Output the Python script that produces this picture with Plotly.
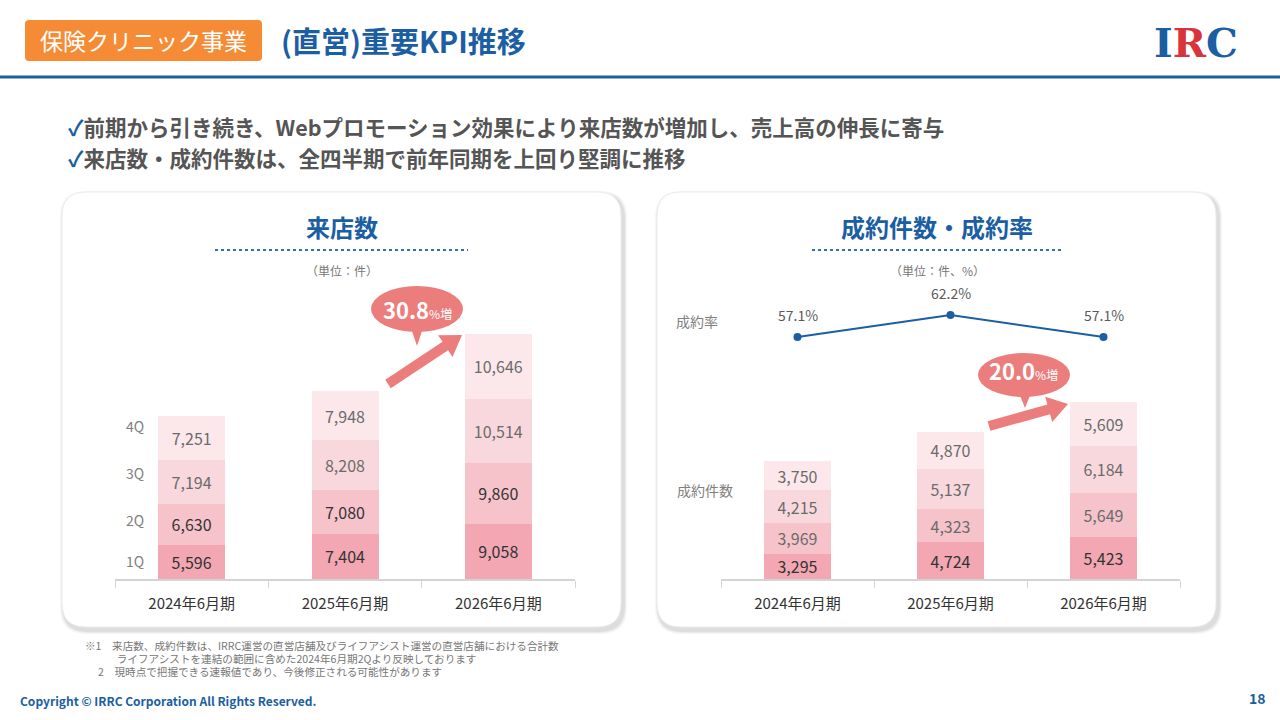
import math
import plotly.graph_objects as go

W, H = 1280, 720

# ---- data ----
years = ["2024年6月期", "2025年6月期", "2026年6月期"]
quarters = ["1Q", "2Q", "3Q", "4Q"]
visits = {
    "1Q": [5596, 7404, 9058],
    "2Q": [6630, 7080, 9860],
    "3Q": [7194, 8208, 10514],
    "4Q": [7251, 7948, 10646],
}
contracts = {
    "1Q": [3295, 4724, 5423],
    "2Q": [3969, 4323, 5649],
    "3Q": [4215, 5137, 6184],
    "4Q": [3750, 4870, 5609],
}
close_rate = [57.1, 62.2, 57.1]
visits_growth = "30.8"
contracts_growth = "20.0"

q_colors = {"1Q": "#F2A7B3", "2Q": "#F6C3CB", "3Q": "#F9D8DD", "4Q": "#FCE8EB"}
visit_txt = {"1Q": "#333333", "2Q": "#333333", "3Q": "#6b6b6b", "4Q": "#6b6b6b"}
contract_txt = {"1Q": "#333333", "2Q": "#6b6b6b", "3Q": "#6b6b6b", "4Q": "#6b6b6b"}

FONT = "Noto Sans CJK JP"
BLUE = "#1B5EA2"
PINK = "#EC7D7D"


def px(x):
    return x / W


def py(y):
    return 1 - y / H


def P(x, y):
    return f"{px(x):.5f},{py(y):.5f}"


def rounded_rect(x0, y0, x1, y1, r):
    return (f"M{P(x0 + r, y0)} L{P(x1 - r, y0)} Q{P(x1, y0)} {P(x1, y0 + r)} "
            f"L{P(x1, y1 - r)} Q{P(x1, y1)} {P(x1 - r, y1)} L{P(x0 + r, y1)} "
            f"Q{P(x0, y1)} {P(x0, y1 - r)} L{P(x0, y0 + r)} Q{P(x0, y0)} {P(x0 + r, y0)} Z")


fig = go.Figure()

# ---- left: visits ----
for q in quarters:
    fig.add_trace(go.Bar(
        x=years, y=visits[q], name=q, marker=dict(color=q_colors[q], line_width=0),
        width=0.437, text=visits[q], texttemplate="%{y:,}", textposition="inside",
        insidetextanchor="middle", textangle=0, constraintext="none",
        textfont=dict(size=16, color=visit_txt[q], family=FONT),
        xaxis="x", yaxis="y", showlegend=False, hoverinfo="skip"))

# ---- right: contracts ----
for q in quarters:
    fig.add_trace(go.Bar(
        x=years, y=contracts[q], name=q, marker=dict(color=q_colors[q], line_width=0),
        width=0.437, text=contracts[q], texttemplate="%{y:,}", textposition="inside",
        insidetextanchor="middle", textangle=0, constraintext="none",
        textfont=dict(size=16, color=contract_txt[q], family=FONT),
        xaxis="x2", yaxis="y2", showlegend=False, hoverinfo="skip"))

fig.add_trace(go.Scatter(
    x=years, y=close_rate, mode="lines+markers",
    line=dict(color=BLUE, width=2), marker=dict(color=BLUE, size=8),
    xaxis="x2", yaxis="y3", showlegend=False, hoverinfo="skip"))

xax = dict(type="category", showgrid=False, zeroline=False, showline=True,
           linecolor="#d4d4d4", linewidth=1.5, ticks="outside", tickson="boundaries",
           ticklen=7, tickcolor="#d4d4d4", ticklabelstandoff=10,
           tickfont=dict(size=15, color="#333333", family=FONT))
yax = dict(showgrid=False, zeroline=False, showticklabels=False, showline=False)

fig.update_layout(
    width=W, height=H, margin=dict(l=0, r=0, t=0, b=0),
    paper_bgcolor="white", plot_bgcolor="rgba(0,0,0,0)", barmode="stack",
    font=dict(family=FONT),
    xaxis=dict(xax, domain=[px(115), px(575)], anchor="y"),
    yaxis=dict(yax, domain=[py(579), py(273)], range=[0, 50000], anchor="x"),
    xaxis2=dict(xax, domain=[px(721), px(1180)], anchor="y2"),
    yaxis2=dict(yax, domain=[py(579), py(347)], range=[0, 30000], anchor="x2"),
    yaxis3=dict(yax, domain=[py(360), py(290)], range=[51.76, 68.0], anchor="x2"),
)

shapes = []
# header
shapes.append(dict(type="path", path=rounded_rect(25, 20, 262, 61, 4), xref="paper", yref="paper",
                   fillcolor="#F68B36", line_width=0, layer="below"))
shapes.append(dict(type="line", x0=0, x1=1, y0=py(77), y1=py(77), xref="paper", yref="paper",
                   line=dict(color=BLUE, width=3)))
# cards with soft shadow
for cx0, cx1 in [(62, 621), (657, 1216)]:
    for i, a in enumerate([0.035, 0.045, 0.06]):
        d = 4 - i
        shapes.append(dict(type="path", path=rounded_rect(cx0 - d + 2, 192 - d + 3, cx1 + d + 2, 627 + d + 3, 26),
                           xref="paper", yref="paper", fillcolor=f"rgba(0,0,0,{a})", line_width=0, layer="below"))
    shapes.append(dict(type="path", path=rounded_rect(cx0, 192, cx1, 627, 24), xref="paper", yref="paper",
                       fillcolor="white", line=dict(color="#ececec", width=1), layer="below"))
# dotted underlines
for lx0, lx1 in [(215, 468), (812, 1063)]:
    shapes.append(dict(type="line", x0=px(lx0), x1=px(lx1), y0=py(250), y1=py(250), xref="paper",
                       yref="paper", line=dict(color="#2E6FB8", width=2, dash="dot")))


def callout(cx, cy, rx, ry, tail_x, tail_tip):
    out = [dict(type="circle", x0=px(cx - rx), x1=px(cx + rx), y0=py(cy + ry), y1=py(cy - ry),
                xref="paper", yref="paper", fillcolor=PINK, line_width=0)]
    out.append(dict(type="path", xref="paper", yref="paper", fillcolor=PINK, line_width=0,
                    path=f"M{P(tail_x - 6, cy + ry - 4)} L{P(tail_x + 6, cy + ry - 4)} L{P(tail_x, tail_tip)} Z"))
    return out


def fat_arrow(x0, y0, x1, y1, shaft=5, head_w=13, head_l=20):
    dx, dy = x1 - x0, y1 - y0
    L = math.hypot(dx, dy)
    ux, uy = dx / L, dy / L
    nx, ny = -uy, ux
    bx, by = x1 - ux * head_l, y1 - uy * head_l
    pts = [(x0 + nx * shaft, y0 + ny * shaft), (bx + nx * shaft, by + ny * shaft),
           (bx + nx * head_w, by + ny * head_w), (x1, y1),
           (bx - nx * head_w, by - ny * head_w), (bx - nx * shaft, by - ny * shaft),
           (x0 - nx * shaft, y0 - ny * shaft)]
    path = "M" + " L".join(P(a, b) for a, b in pts) + " Z"
    return dict(type="path", path=path, xref="paper", yref="paper", fillcolor=PINK, line_width=0)


shapes += callout(417, 309, 46, 23, 417, 346)
shapes.append(fat_arrow(388, 384, 462, 335))
shapes += callout(1024, 375, 46, 22, 1025, 408)
shapes.append(fat_arrow(989, 426, 1068, 404))

fig.update_layout(shapes=shapes)

ann = []


def T(x, y, text, size, color, xanchor="left", bold=False, family=FONT):
    if bold:
        text = f"<b>{text}</b>"
    ann.append(dict(x=px(x), y=py(y), xref="paper", yref="paper", text=text, showarrow=False,
                    xanchor=xanchor, yanchor="middle", font=dict(size=size, color=color, family=family)))


# rate labels above the line points
for yr, r in zip(years, close_rate):
    ann.append(dict(x=yr, y=r, xref="x2", yref="y3", text=f"{r:.1f}%", showarrow=False,
                    yshift=22, font=dict(size=14, color="#5a5a5a", family=FONT)))

T(143, 40, "保険クリニック事業", 23, "white", "center")
T(279, 40, "(直営)重要KPI推移", 29, BLUE, bold=True)
T(1196, 42, "<span style='color:#1B5EA2'>I</span><span style='color:#D8343C'>R</span>"
            "<span style='color:#1B5EA2'>C</span>", 40, BLUE, "center", bold=True, family="DejaVu Serif")
T(66, 126, "<span style='color:#1B5EA2'>✓</span>前期から引き続き、Webプロモーション効果により来店数が増加し、売上高の伸長に寄与",
  21.5, "#555555", bold=True)
T(66, 157, "<span style='color:#1B5EA2'>✓</span>来店数・成約件数は、全四半期で前年同期を上回り堅調に推移",
  21.5, "#555555", bold=True)

T(342, 226, "来店数", 24, BLUE, "center", bold=True)
T(342, 270, "（単位：件）", 12, "#777777", "center")
T(937, 226, "成約件数・成約率", 24, BLUE, "center", bold=True)
T(937, 270, "（単位：件、%）", 12, "#777777", "center")

for q, yy in zip(quarters, [561, 520, 473, 426]):
    T(135, yy, q, 14, "#808080", "center")
T(697, 321, "成約率", 14, "#808080", "center")
T(705, 490, "成約件数", 14, "#808080", "center")

T(417, 309, f"<b>{visits_growth}</b><span style='font-size:12px'>%増</span>", 22, "white", "center")
T(1023, 370, f"<b>{contracts_growth}</b><span style='font-size:12px'>%増</span>", 22, "white", "center")

T(83, 645, "※1　来店数、成約件数は、IRRC運営の直営店舗及びライフアシスト運営の直営店舗における合計数", 10.6, "#777777")
T(83, 658, "　　　ライフアシストを連結の範囲に含めた2024年6月期2Qより反映しております", 10.6, "#777777")
T(83, 671, "　 2　現時点で把握できる速報値であり、今後修正される可能性があります", 10.6, "#777777")
T(18, 700, "Copyright © IRRC Corporation All Rights Reserved.", 12, BLUE, bold=True)
T(1268, 698, "18", 14, BLUE, "right", bold=True)

fig.update_layout(annotations=ann)
fig.write_html("out.html", config={"displayModeBar": False},
               post_script="document.body.style.margin='0';")
